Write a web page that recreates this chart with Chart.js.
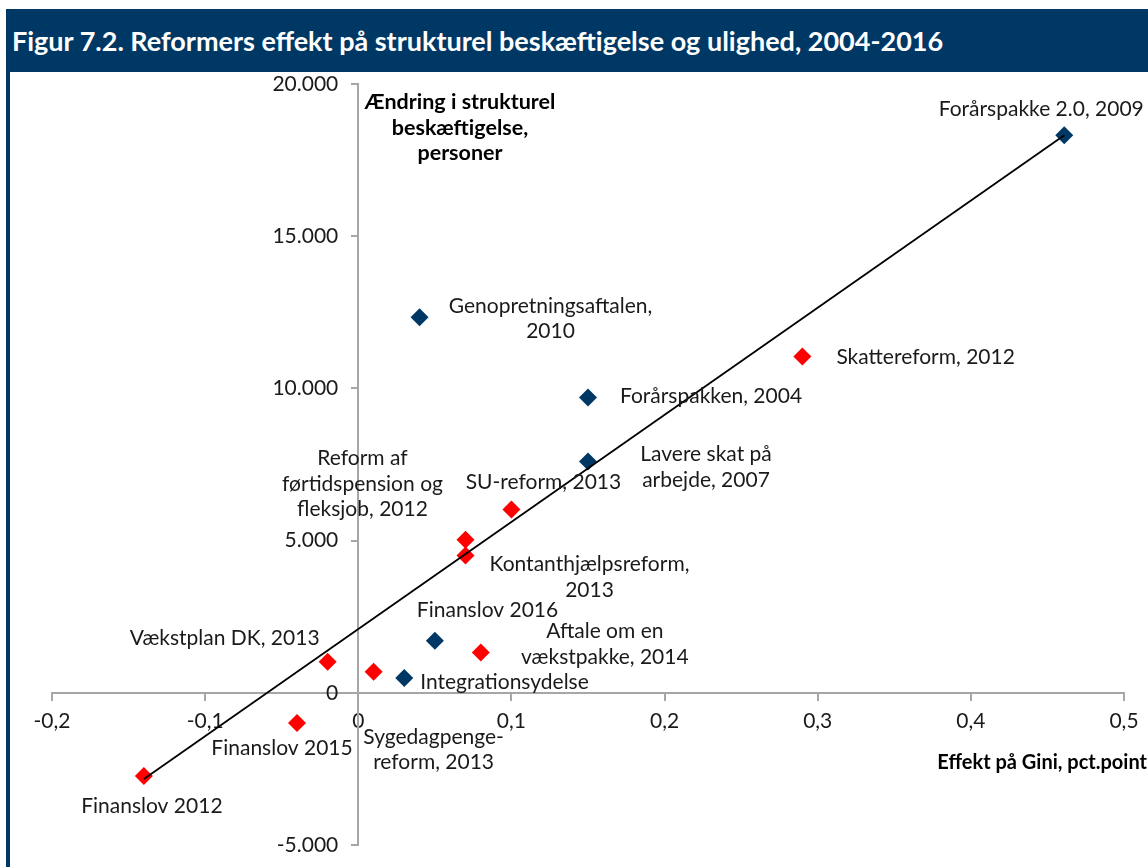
<!DOCTYPE html>
<html>
<head>
<meta charset="utf-8">
<script src="https://cdn.jsdelivr.net/npm/chart.js@4.4.1/dist/chart.umd.min.js"></script>
<style>
  html, body { margin: 0; padding: 0; background: #fff; }
  body { width: 1148px; height: 867px; position: relative; overflow: hidden; font-family: Lato, "Open Sans", sans-serif; }
  #titleBar {
    position: absolute; left: 6px; top: 9px; right: 0; height: 63px;
    background: #003865; color: #fff; font-weight: bold; font-size: 27px;
    line-height: 63px; padding-left: 6px; white-space: nowrap;
  }
  #leftRule { position: absolute; left: 6px; top: 72px; width: 4px; bottom: 0; background: #003865; }
  #chartBox { position: absolute; left: 0; top: 0; width: 1148px; height: 867px; }
  .axisTitle { position: absolute; font-weight: bold; font-size: 21.5px; color: #000; line-height: 25.5px; }
  #yTitle { left: 340px; top: 89px; width: 240px; text-align: center; }
  #xTitle { right: 1px; top: 749px; text-align: right; white-space: nowrap; font-size: 20px; }
</style>
</head>
<body>
<div id="chartBox"><canvas id="chart" width="1148" height="867"></canvas></div>
<div id="titleBar">Figur 7.2. Reformers effekt på strukturel beskæftigelse og ulighed, 2004-2016</div>
<div id="leftRule"></div>
<div class="axisTitle" id="yTitle">Ændring i strukturel<br>beskæftigelse,<br>personer</div>
<div class="axisTitle" id="xTitle">Effekt på Gini, pct.point</div>
<script>
// Reformer, blå markering
const blueNames = ['Forårspakke 2.0, 2009', 'Genopretningsaftalen,\n2010', 'Forårspakken, 2004',
    'Lavere skat på\narbejde, 2007', 'Finanslov 2016', 'Integrationsydelse'];
const blueGini = [0.461, 0.04, 0.15, 0.15, 0.05, 0.03];
const blueJobs = [18320, 12340, 9700, 7600, 1710, 490];

// Reformer, rød markering
const redNames = ['Skattereform, 2012', 'SU-reform, 2013', 'Reform af\nførtidspension og\nfleksjob, 2012',
    'Kontanthjælpsreform,\n2013', 'Aftale om en\nvækstpakke, 2014', 'Vækstplan DK, 2013',
    'Sygedagpenge-\nreform, 2013', 'Finanslov 2015', 'Finanslov 2012'];
const redGini = [0.29, 0.10, 0.07, 0.07, 0.08, -0.02, 0.01, -0.04, -0.14];
const redJobs = [11050, 6020, 5030, 4510, 1320, 1020, 690, -990, -2730];

// Tendenslinje, endepunkter
const trendGini = [-0.14, 0.461];
const trendJobs = [-2830, 18320];

// Akser
const xMin = -0.2, xMax = 0.5, xStep = 0.1;
const yMin = -5000, yMax = 20000, yStep = 5000;

// Label placement relative to marker (px): dx, dy of first line, align
const labelPos = {
    'Forårspakke 2.0, 2009': [-23, -26, 'center'],
    'Genopretningsaftalen,\n2010': [131, -11, 'center'],
    'Forårspakken, 2004': [32, -1, 'left'],
    'Lavere skat på\narbejde, 2007': [118, -7, 'center'],
    'Finanslov 2016': [-18, -31, 'left'],
    'Integrationsydelse': [16, 4, 'left'],
    'Skattereform, 2012': [34, 1, 'left'],
    'SU-reform, 2013': [32, -27, 'center'],
    'Reform af\nførtidspension og\nfleksjob, 2012': [-103, -81, 'center'],
    'Kontanthjælpsreform,\n2013': [124, 9, 'center'],
    'Aftale om en\nvækstpakke, 2014': [124, -21, 'center'],
    'Vækstplan DK, 2013': [-103, -24, 'center'],
    'Sygedagpenge-\nreform, 2013': [60, 65, 'center'],
    'Finanslov 2015': [-15, 25, 'center'],
    'Finanslov 2012': [8, 30, 'center']
};

const NAVY = '#003865';
const RED = '#ff0000';
const AXIS = '#a6a6a6';
const FONT = 'Lato';
const FSIZE = 21;

const toPoints = (xs, ys) => xs.map((x, i) => ({ x: x, y: ys[i] }));

const fmtX = v => {
    const r = Math.round(v * 10) / 10;
    return r === 0 ? '0' : String(r).replace('.', ',');
};
const fmtY = v => {
    const s = String(Math.abs(Math.round(v))).replace(/\B(?=(\d{3})+(?!\d))/g, '.');
    return v < 0 ? '-' + s : s;
};

// Point labels
const pointLabels = {
    id: 'pointLabels',
    afterDatasetsDraw(chart) {
        const ctx = chart.ctx;
        ctx.save();
        ctx.font = FSIZE + 'px ' + FONT;
        ctx.fillStyle = '#1a1a1a';
        ctx.textBaseline = 'middle';
        chart.data.datasets.forEach((ds, di) => {
            if (!ds.names) return;
            const meta = chart.getDatasetMeta(di);
            meta.data.forEach((pt, i) => {
                const name = ds.names[i];
                const pos = labelPos[name] || [12, 0, 'left'];
                ctx.textAlign = pos[2];
                name.split('\n').forEach((line, li) => {
                    ctx.fillText(line, pt.x + pos[0], pt.y + pos[1] + li * 25.5);
                });
            });
        });
        ctx.restore();
    }
};

// y tick labels sit flush on a centred axis; push them left of the tick marks
const yLabelGap = {
    id: 'yLabelGap',
    beforeDraw(chart) {
        const items = chart.scales.y.getLabelItems(chart.chartArea);
        if (items._gap) return;
        items.forEach(it => { it.options.translation[0] -= 20; });
        items._gap = true;
    }
};

new Chart(document.getElementById('chart'), {
    type: 'scatter',
    data: {
        datasets: [
            {
                type: 'line',
                label: 'Tendens',
                data: toPoints(trendGini, trendJobs),
                borderColor: '#000',
                borderWidth: 1.8,
                pointRadius: 0,
                fill: false,
                order: 0
            },
            {
                label: 'Blå',
                names: blueNames,
                data: toPoints(blueGini, blueJobs),
                backgroundColor: NAVY,
                borderWidth: 0,
                pointStyle: 'rectRot',
                pointRadius: 9,
                order: 1
            },
            {
                label: 'Rød',
                names: redNames,
                data: toPoints(redGini, redJobs),
                backgroundColor: RED,
                borderWidth: 0,
                pointStyle: 'rectRot',
                pointRadius: 9,
                order: 1
            }
        ]
    },
    options: {
        responsive: false,
        animation: false,
        devicePixelRatio: 1,
        events: [],
        layout: { padding: { left: 52, right: 24, top: 84, bottom: 22 } },
        plugins: {
            legend: { display: false },
            tooltip: { enabled: false }
        },
        scales: {
            x: {
                type: 'linear',
                position: { y: 0 },
                min: xMin, max: xMax,
                afterFit: s => { s.height = 0; },
                ticks: {
                    stepSize: xStep,
                    callback: fmtX,
                    font: { family: FONT, size: FSIZE },
                    color: '#1a1a1a',
                    padding: 9,
                    maxRotation: 0,
                    autoSkip: false
                },
                grid: { drawOnChartArea: false, drawTicks: true, tickLength: 7, color: AXIS, lineWidth: 2 },
                border: { display: true, color: AXIS, width: 2 }
            },
            y: {
                type: 'linear',
                position: { x: 0 },
                min: yMin, max: yMax,
                afterFit: s => { s.width = 0; },
                ticks: {
                    stepSize: yStep,
                    callback: fmtY,
                    font: { family: FONT, size: FSIZE },
                    color: '#1a1a1a',
                    autoSkip: false
                },
                grid: { drawOnChartArea: false, drawTicks: true, tickLength: 6, color: AXIS, lineWidth: 2 },
                border: { display: true, color: AXIS, width: 2 }
            }
        }
    },
    plugins: [pointLabels, yLabelGap]
});
</script>
</body>
</html>
